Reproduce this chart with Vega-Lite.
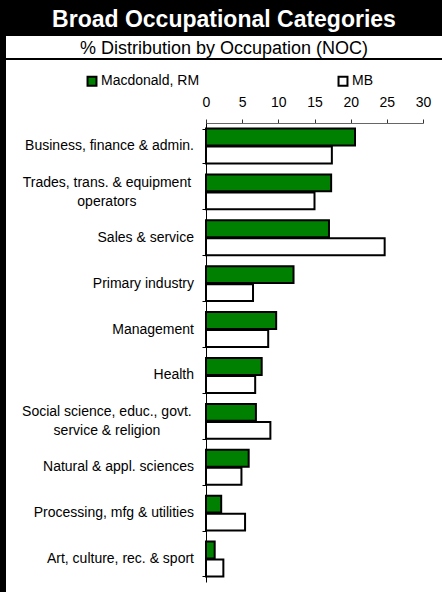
{
  "$schema": "https://vega.github.io/schema/vega-lite/v6.json",
  "background": "black",
  "padding": {"left": 6, "top": 0, "right": 0, "bottom": 0},
  "spacing": 2,
  "config": {"view": {"stroke": null}, "font": "Liberation Sans"},
  "vconcat": [
    {
      "width": 436,
      "height": 34,
      "view": {"fill": "black", "stroke": null},
      "data": {"values": [{"title": "Broad Occupational Categories"}]},
      "mark": {"type": "text", "color": "white", "font": "Liberation Sans", "fontWeight": "bold", "fontSize": 23, "baseline": "middle", "dy": 3},
      "encoding": {"text": {"field": "title"}}
    },
    {
      "width": 436,
      "height": 22,
      "view": {"fill": "white", "stroke": null},
      "data": {"values": [{"subtitle": "% Distribution by Occupation (NOC)"}]},
      "mark": {"type": "text", "color": "black", "font": "Liberation Sans", "fontSize": 18, "baseline": "middle", "dy": 1.5},
      "encoding": {"text": {"field": "subtitle"}}
    },
    {
      "width": 436,
      "height": 532,
      "view": {"fill": "white", "stroke": null},
      "data": {
        "values": [
          {"category": "Business, finance & admin.", "series": "Macdonald, RM", "value": 20.6},
          {"category": "Business, finance & admin.", "series": "MB", "value": 17.4},
          {"category": "Trades, trans. & equipment\noperators", "series": "Macdonald, RM", "value": 17.3},
          {"category": "Trades, trans. & equipment\noperators", "series": "MB", "value": 15.0},
          {"category": "Sales & service", "series": "Macdonald, RM", "value": 17.0},
          {"category": "Sales & service", "series": "MB", "value": 24.7},
          {"category": "Primary industry", "series": "Macdonald, RM", "value": 12.1},
          {"category": "Primary industry", "series": "MB", "value": 6.5},
          {"category": "Management", "series": "Macdonald, RM", "value": 9.7},
          {"category": "Management", "series": "MB", "value": 8.6},
          {"category": "Health", "series": "Macdonald, RM", "value": 7.7},
          {"category": "Health", "series": "MB", "value": 6.8},
          {"category": "Social science, educ., govt.\nservice & religion", "series": "Macdonald, RM", "value": 6.9},
          {"category": "Social science, educ., govt.\nservice & religion", "series": "MB", "value": 8.9},
          {"category": "Natural & appl. sciences", "series": "Macdonald, RM", "value": 5.9},
          {"category": "Natural & appl. sciences", "series": "MB", "value": 4.9},
          {"category": "Processing, mfg & utilities", "series": "Macdonald, RM", "value": 2.1},
          {"category": "Processing, mfg & utilities", "series": "MB", "value": 5.4},
          {"category": "Art, culture, rec. & sport", "series": "Macdonald, RM", "value": 1.2},
          {"category": "Art, culture, rec. & sport", "series": "MB", "value": 2.4}
        ]
      },
      "encoding": {
        "y": {
          "field": "category",
          "type": "nominal",
          "sort": [
            "Business, finance & admin.",
            "Trades, trans. & equipment\noperators",
            "Sales & service",
            "Primary industry",
            "Management",
            "Health",
            "Social science, educ., govt.\nservice & religion",
            "Natural & appl. sciences",
            "Processing, mfg & utilities",
            "Art, culture, rec. & sport"
          ],
          "scale": {"range": [63, 522], "paddingInner": 0.24, "paddingOuter": 0.12},
          "axis": {
            "orient": "left",
            "offset": -200,
            "title": null,
            "labels": false,
            "tickBand": "extent",
            "domainColor": "black",
            "tickColor": "black",
            "tickSize": 4
          }
        }
      },
      "layer": [
        {
          "mark": {"type": "bar", "stroke": "black", "strokeWidth": 2},
          "encoding": {
            "x": {
              "field": "value",
              "type": "quantitative",
              "scale": {"domain": [0, 30], "range": [200, 417], "nice": false},
              "axis": {
                "orient": "top",
                "offset": -63,
                "title": null,
                "values": [0, 5, 10, 15, 20, 25, 30],
                "grid": false,
                "domainColor": "#666666",
                "tickColor": "#333333",
                "tickSize": 4,
                "labelPadding": 10,
                "labelFont": "Liberation Sans",
                "labelFontSize": 14,
                "labelColor": "black",
                "labelFlush": false
              }
            },
            "yOffset": {
              "field": "series",
              "type": "nominal",
              "sort": ["Macdonald, RM", "MB"],
              "scale": {"paddingInner": 0.06}
            },
            "fill": {
              "field": "series",
              "type": "nominal",
              "scale": {"domain": ["Macdonald, RM", "MB"], "range": ["#008000", "#ffffff"]},
              "legend": {
                "title": null,
                "orient": "none",
                "legendX": 79,
                "legendY": 74,
                "direction": "horizontal",
                "columns": 2,
                "columnPadding": 134,
                "symbolType": "square",
                "symbolSize": 80,
                "symbolStrokeColor": "black",
                "symbolStrokeWidth": 2,
                "labelFont": "Liberation Sans",
                "labelFontSize": 14,
                "labelColor": "black",
                "labelOffset": 2
              }
            }
          }
        },
        {
          "transform": [{"filter": "datum.series == 'MB' && indexof(datum.category, '\\n') < 0"}],
          "mark": {"type": "text", "align": "right", "baseline": "middle", "font": "Liberation Sans", "fontSize": 14, "color": "black"},
          "encoding": {
            "x": {"datum": -1.66, "type": "quantitative"},
            "text": {"field": "category"}
          }
        },
        {
          "transform": [{"filter": "datum.series == 'MB' && indexof(datum.category, '\\n') >= 0"}],
          "mark": {"type": "text", "align": "center", "baseline": "middle", "font": "Liberation Sans", "fontSize": 14, "color": "black", "lineBreak": "\n", "lineHeight": 19, "dy": -9},
          "encoding": {
            "x": {"datum": -13.7, "type": "quantitative"},
            "text": {"field": "category"}
          }
        }
      ]
    }
  ]
}
